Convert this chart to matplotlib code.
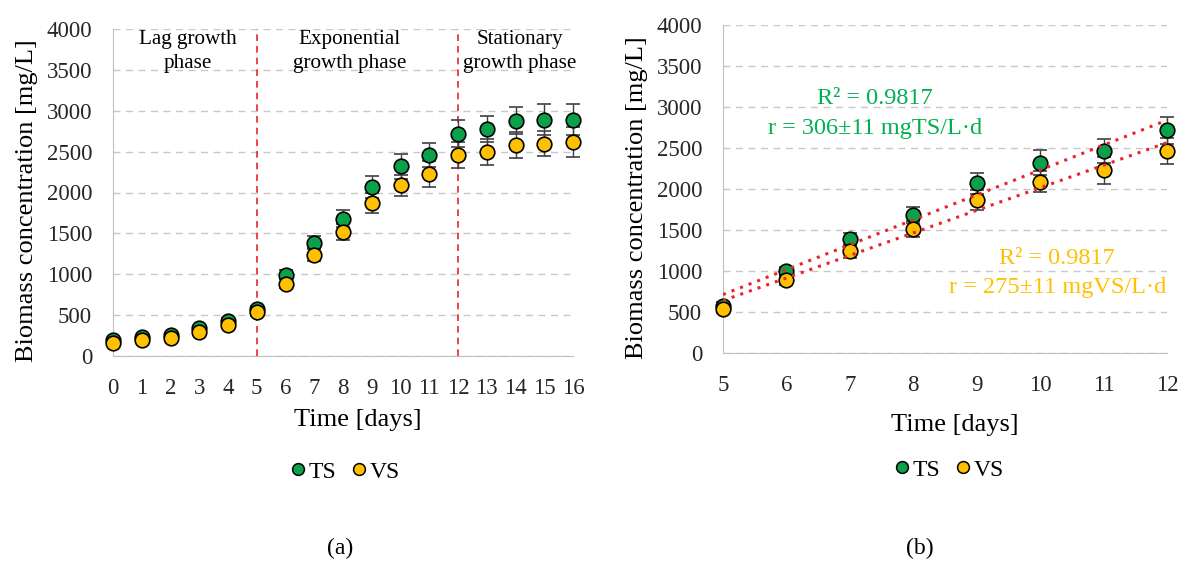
import numpy as np
import matplotlib
matplotlib.use("Agg")
import matplotlib.pyplot as plt
from matplotlib.lines import Line2D

days = [0, 1, 2, 3, 4, 5, 6, 7, 8, 9, 10, 11, 12, 13, 14, 15, 16]
ts = [196, 229, 257, 339, 433, 576, 995, 1388, 1680, 2068, 2320, 2462, 2718, 2778, 2875, 2892, 2892]
vs = [157, 197, 218, 292, 382, 533, 885, 1240, 1515, 1870, 2088, 2226, 2462, 2495, 2580, 2598, 2614]
ts_err = [25, 25, 30, 30, 35, 40, 55, 75, 100, 130, 150, 145, 165, 160, 165, 185, 185]
vs_err = [25, 25, 30, 30, 35, 40, 55, 80, 100, 120, 130, 160, 160, 155, 155, 155, 185]
phase_labels = ["Lag growth\nphase", "Exponential\ngrowth phase", "Stationary\ngrowth phase"]
phase_x = [2.61, 8.24, 14.16]
phase_bounds = [5, 12]
fit_start, fit_end = 5, 12

GREEN = "#0BA14B"
ORANGE = "#FFC000"
GREEN_TXT = "#00B050"
RED = "#E8262A"

plt.rcParams['font.family'] = ['Liberation Serif', 'DejaVu Serif']

fig = plt.figure(figsize=(11.81, 5.67), dpi=100)
axA = fig.add_axes([113 / 1181, 1 - 356 / 567, 460 / 1181, 327 / 567])
axB = fig.add_axes([723 / 1181, 1 - 353 / 567, 444 / 1181, 328 / 567])

def style(ax, xl, yl):
    ax.set_ylim(0, 4000)
    ax.set_yticks(range(0, 4001, 500))
    ax.yaxis.grid(True, color="#C8C8C8", linestyle=(0, (5, 4)), linewidth=1)
    ax.set_axisbelow(True)
    for s in ["top", "right"]:
        ax.spines[s].set_visible(False)
    for s in ["left", "bottom"]:
        ax.spines[s].set_color("#BFBFBF")
    ax.tick_params(length=0, labelsize=16.5, colors="#262626")
    ax.tick_params(axis='y', pad=15)
    ax.tick_params(axis='x', pad=16)
    ax.set_ylabel("Biomass concentration [mg/L]", fontsize=19)
    ax.set_xlabel("Time [days]", fontsize=19)
    ax.yaxis.set_label_coords(*yl)
    ax.xaxis.set_label_coords(*xl)

def plot_series(ax, x, y, e, color, label):
    ax.errorbar(x, y, yerr=e, fmt='o', color=color, markerfacecolor=color,
                markeredgecolor="black", markeredgewidth=1.2, markersize=10.5,
                ecolor="#404040", elinewidth=1, capsize=5, capthick=1, label=label,
                zorder=3, clip_on=False)

# Panel (a)
plot_series(axA, days, ts, ts_err, GREEN, "TS")
plot_series(axA, days, vs, vs_err, ORANGE, "VS")
axA.set_xlim(0, 16)
axA.set_xticks(days)
style(axA, (0.533, -0.162), (-0.163, 0.474))
for b in phase_bounds:
    axA.axvline(b, color=RED, linestyle=(0, (4, 3)), linewidth=1.2, zorder=2)
for px, lab in zip(phase_x, phase_labels):
    axA.text(px, 3725, lab, ha="center", va="center", fontsize=15.2, linespacing=1.42)

# Panel (b)
sel = [i for i, d in enumerate(days) if fit_start <= d <= fit_end]
xb = np.array([days[i] for i in sel], dtype=float)
tsb = np.array([ts[i] for i in sel], dtype=float)
vsb = np.array([vs[i] for i in sel], dtype=float)
plot_series(axB, xb, tsb, [ts_err[i] for i in sel], GREEN, "TS")
plot_series(axB, xb, vsb, [vs_err[i] for i in sel], ORANGE, "VS")
for yy in (tsb, vsb):
    p = np.polyfit(xb, yy, 1)
    xx = np.array([fit_start, fit_end], dtype=float)
    axB.plot(xx, np.polyval(p, xx), linestyle=(0, (1, 2.0)), color=RED, linewidth=2.2, zorder=4)
axB.set_xlim(fit_start, fit_end)
axB.set_xticks(range(fit_start, fit_end + 1))
style(axB, (0.5225, -0.186), (-0.169, 0.473))
axB.text(7.40, 2920, "R² = 0.9817\nr = 306±11 mgTS/L·d", color=GREEN_TXT, ha="center",
         va="center", fontsize=17.5, linespacing=1.55)
axB.text(10.27, 975, "R² = 0.9817\nr = 275±11 mgVS/L·d", color=ORANGE, ha="center",
         va="center", fontsize=17.5, linespacing=1.55)

# Legends
handles = [Line2D([], [], marker='o', linestyle='none', markerfacecolor=GREEN, markeredgecolor='black',
                  markersize=8.5, markeredgewidth=1.1, label="TS"),
           Line2D([], [], marker='o', linestyle='none', markerfacecolor=ORANGE, markeredgecolor='black',
                  markersize=8.5, markeredgewidth=1.1, label="VS")]
for cx, cy in ((344, 472), (948, 470)):
    fig.legend(handles=handles, loc="center", bbox_to_anchor=(cx / 1181, 1 - cy / 567), ncol=2,
               frameon=False, fontsize=17, handletextpad=0.05, columnspacing=0.55, handlelength=0.8,
               borderpad=0, borderaxespad=0)

fig.text(340 / 1181, 1 - 548 / 567, "(a)", ha="center", va="center", fontsize=17)
fig.text(920 / 1181, 1 - 548 / 567, "(b)", ha="center", va="center", fontsize=17)

fig.savefig("out.png", dpi=100, facecolor="white")
